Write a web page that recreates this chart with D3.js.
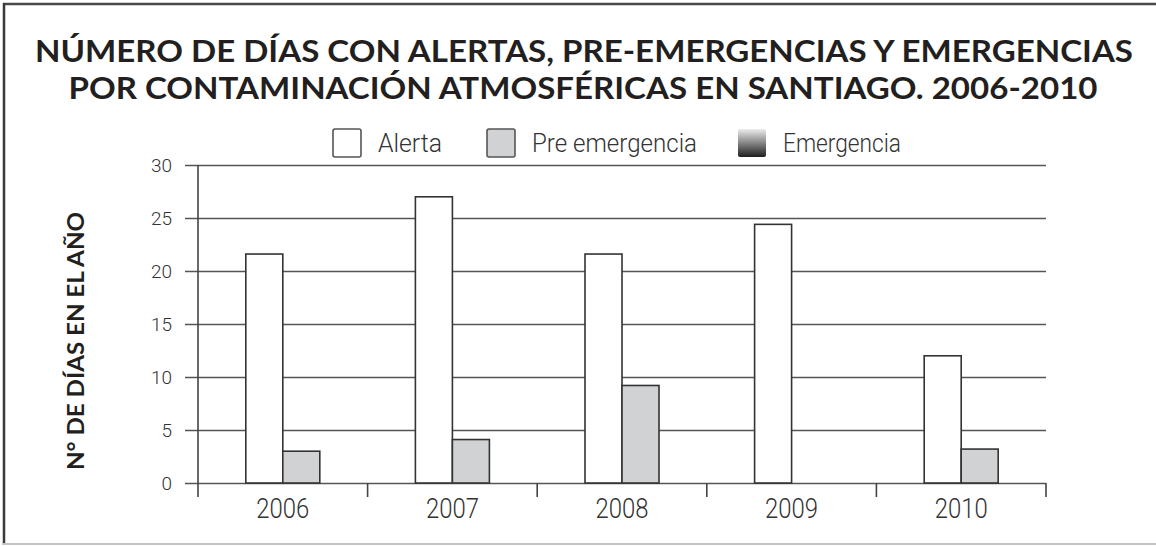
<!DOCTYPE html>
<html lang="es">
<head>
<meta charset="utf-8">
<script src="https://cdn.jsdelivr.net/npm/d3@7"></script>
<style>
  html, body { margin: 0; padding: 0; background: #fff; }
  svg { display: block; }
  .title { font-family: Lato, "Open Sans", sans-serif; font-weight: 700; fill: #231f20; }
  .ytitle { font-family: Lato, "Open Sans", sans-serif; font-weight: 700; fill: #231f20; }
  .cond { font-family: Roboto, sans-serif; font-weight: 300; fill: #333; }
  .ytick text { font-family: Roboto, sans-serif; font-weight: 300; fill: #333; font-size: 19px; }
</style>
</head>
<body>
<svg id="chart" width="1156" height="546"></svg>
<script>
// Días con episodios críticos de contaminación en Santiago
const years = ["2006", "2007", "2008", "2009", "2010"];
const alerta = [21.6, 27, 21.6, 24.4, 12];
const preEmergencia = [3, 4.1, 9.2, 0, 3.2];
const emergencia = [0, 0, 0, 0, 0];
const seriesNames = ["Alerta", "Pre emergencia", "Emergencia"];
const yTicks = [0, 5, 10, 15, 20, 25, 30];
const titleLines = [
  "NÚMERO DE DÍAS CON ALERTAS, PRE-EMERGENCIAS Y EMERGENCIAS",
  "POR CONTAMINACIÓN ATMOSFÉRICAS EN SANTIAGO. 2006-2010"
];
const yTitle = "N° DE DÍAS EN EL AÑO";

const svg = d3.select("#chart");

// gradient used by the "Emergencia" swatch
const defs = svg.append("defs");
const grad = defs.append("linearGradient").attr("id", "emerGrad")
  .attr("x1", 0).attr("y1", 0).attr("x2", 0).attr("y2", 1);
grad.append("stop").attr("offset", "0%").attr("stop-color", "#ececec");
grad.append("stop").attr("offset", "100%").attr("stop-color", "#1e1e1e");

// frame
svg.append("line").attr("x1", 3).attr("x2", 1156).attr("y1", 4).attr("y2", 4)
  .attr("stroke", "#4a4a4a").attr("stroke-width", 2.5);
svg.append("line").attr("x1", 4).attr("x2", 4).attr("y1", 3).attr("y2", 545)
  .attr("stroke", "#3a3a3a").attr("stroke-width", 2.5);
svg.append("line").attr("x1", 3).attr("x2", 1156).attr("y1", 544).attr("y2", 544)
  .attr("stroke", "#c4c4c4").attr("stroke-width", 2);

// title
const titleWidths = [1098, 1029];
const titleCenters = [584, 583];
const titleBaselines = [62, 99];
svg.selectAll("text.title").data(titleLines).join("text")
  .attr("class", "title")
  .attr("x", (d, i) => titleCenters[i])
  .attr("y", (d, i) => titleBaselines[i])
  .attr("text-anchor", "middle")
  .attr("font-size", 30.5)
  .attr("textLength", (d, i) => titleWidths[i])
  .attr("lengthAdjust", "spacingAndGlyphs")
  .text(d => d);

// scales
const plotLeft = 198, plotRight = 1046, plotTop = 165, plotBottom = 483;
const x = d3.scaleBand().domain(years).range([plotLeft, plotRight]).padding(0);
const barW = 37;
const xs = d3.scaleBand().domain(["Alerta", "Pre emergencia"])
  .range([x.bandwidth() / 2 - barW, x.bandwidth() / 2 + barW]).padding(0);
const y = d3.scaleLinear().domain([0, 30]).range([plotBottom, plotTop]);

// horizontal grid + y labels
const yAxis = d3.axisLeft(y).tickValues(yTicks).tickSize(-(plotRight - 185)).tickPadding(13);
const yg = svg.append("g").attr("class", "ytick").attr("transform", "translate(185,0)").call(yAxis);
yg.select(".domain").remove();
yg.selectAll(".tick line").attr("stroke", "#555").attr("stroke-width", 1.6);

// bars
const rows = years.map((yr, i) => ({ year: yr, values: [
  { key: "Alerta", v: alerta[i], fill: "#ffffff" },
  { key: "Pre emergencia", v: preEmergencia[i], fill: "#d1d2d4" }
].filter(d => d.v > 0) }));

svg.append("g").selectAll("g").data(rows).join("g")
  .attr("transform", d => `translate(${x(d.year)},0)`)
  .selectAll("rect").data(d => d.values).join("rect")
  .attr("x", d => xs(d.key))
  .attr("width", xs.bandwidth())
  .attr("y", d => y(d.v))
  .attr("height", d => y(0) - y(d.v))
  .attr("fill", d => d.fill)
  .attr("stroke", "#333")
  .attr("stroke-width", 1.6);

// y axis line and x ticks at category boundaries
svg.append("line").attr("x1", plotLeft).attr("x2", plotLeft)
  .attr("y1", plotTop).attr("y2", plotBottom + 14)
  .attr("stroke", "#444").attr("stroke-width", 1.6);
svg.append("g").selectAll("line").data(years).join("line")
  .attr("x1", d => x(d) + x.bandwidth()).attr("x2", d => x(d) + x.bandwidth())
  .attr("y1", plotBottom).attr("y2", plotBottom + 14)
  .attr("stroke", "#444").attr("stroke-width", 1.6);

// year labels
svg.append("g").selectAll("text").data(years).join("text")
  .attr("class", "cond")
  .attr("x", d => x(d) + x.bandwidth() / 2)
  .attr("y", 518)
  .attr("text-anchor", "middle")
  .attr("font-size", 27)
  .attr("textLength", 53)
  .attr("lengthAdjust", "spacingAndGlyphs")
  .text(d => d);

// y title
svg.append("text").attr("class", "ytitle")
  .attr("transform", "translate(84,341) rotate(-90)")
  .attr("text-anchor", "middle")
  .attr("font-size", 23)
  .attr("textLength", 258)
  .attr("lengthAdjust", "spacingAndGlyphs")
  .text(yTitle);

// legend
const legendX = [333, 487, 738];
const legendFill = ["#ffffff", "#d1d2d4", "url(#emerGrad)"];
const legendTextLen = [64, 165, 118];
const lg = svg.append("g").selectAll("g").data(seriesNames).join("g")
  .attr("transform", (d, i) => `translate(${legendX[i]},129)`);
lg.append("rect")
  .attr("width", 28).attr("height", 28).attr("rx", 2)
  .attr("fill", (d, i) => legendFill[i])
  .attr("stroke", (d, i) => i === 2 ? "none" : "#555")
  .attr("stroke-width", 1.6);
lg.append("text").attr("class", "cond")
  .attr("x", 45).attr("y", 23)
  .attr("font-size", 26)
  .attr("textLength", (d, i) => legendTextLen[i])
  .attr("lengthAdjust", "spacingAndGlyphs")
  .text(d => d);
</script>
</body>
</html>
